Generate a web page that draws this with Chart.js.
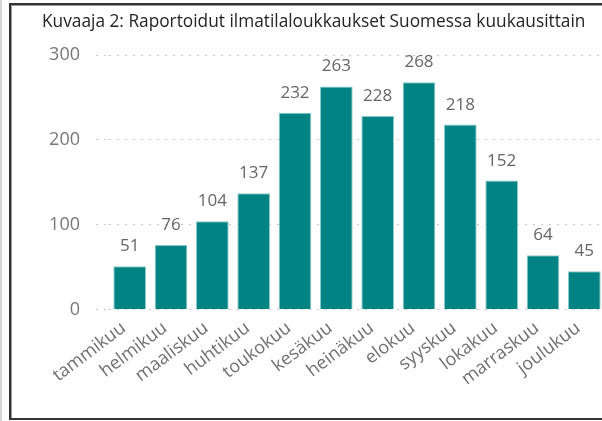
<!DOCTYPE html>
<html lang="fi">
<head>
    <meta charset="UTF-8">
    <title>Kuvaaja 2</title>
    <script src="https://cdn.jsdelivr.net/npm/chart.js@4.4.0/dist/chart.umd.min.js"></script>
    <style>
        html, body {
            margin: 0;
            padding: 0;
            width: 602px;
            height: 421px;
            overflow: hidden;
            background: #fff;
        }
        #strip {
            position: absolute;
            left: 0;
            top: 0;
            width: 2px;
            height: 421px;
            background: #d6d6d6;
        }
        #frame {
            position: absolute;
            left: 9px;
            top: 3px;
            width: 640px;
            height: 413px;
            border: 2px solid #333;
            box-shadow: inset 1px 1px 0 #999;
            pointer-events: none;
        }
        #chart {
            position: absolute;
            left: 0;
            top: 0;
        }
    </style>
</head>
<body>
    <canvas id="chart" width="606" height="421"></canvas>
    <div id="strip"></div>
    <div id="frame"></div>

    <script>
        // Data
        var titleText = 'Kuvaaja 2: Raportoidut ilmatilaloukkaukset Suomessa kuukausittain';
        var months = ['tammikuu', 'helmikuu', 'maaliskuu', 'huhtikuu', 'toukokuu', 'kesäkuu',
                      'heinäkuu', 'elokuu', 'syyskuu', 'lokakuu', 'marraskuu', 'joulukuu'];
        var violations = [51, 76, 104, 137, 232, 263, 228, 268, 218, 152, 64, 45];
        var yTicks = [0, 100, 200, 300];

        var fontFamily = "'Segoe UI', 'Open Sans', sans-serif";

        // title drawn at a fixed spot, left aligned
        var titlePlugin = {
            id: 'fixedTitle',
            afterDraw: function(chart) {
                var ctx = chart.ctx;
                ctx.save();
                ctx.font = '17.3px ' + fontFamily;
                ctx.fillStyle = '#252423';
                ctx.textAlign = 'left';
                ctx.textBaseline = 'middle';
                ctx.fillText(titleText, 42, 22);
                ctx.restore();
            }
        };

        // value labels above the bars
        var valueLabels = {
            id: 'valueLabels',
            afterDatasetsDraw: function(chart) {
                var ctx = chart.ctx;
                var meta = chart.getDatasetMeta(0);
                ctx.save();
                ctx.font = '17px ' + fontFamily;
                ctx.fillStyle = '#666';
                ctx.textAlign = 'center';
                ctx.textBaseline = 'alphabetic';
                meta.data.forEach(function(bar, i) {
                    ctx.fillText(violations[i], bar.x, bar.y - 15);
                });
                ctx.restore();
            }
        };

        var ctx = document.getElementById('chart').getContext('2d');
        var chart = new Chart(ctx, {
            type: 'bar',
            data: {
                labels: months,
                datasets: [{
                    data: violations,
                    backgroundColor: '#028383',
                    borderColor: '#8ccaca',
                    borderWidth: 1,
                    categoryPercentage: 1,
                    barPercentage: 0.79
                }]
            },
            options: {
                responsive: false,
                animation: false,
                devicePixelRatio: 1,
                layout: {
                    padding: { left: 42, top: 55, right: 1, bottom: 0 }
                },
                plugins: {
                    legend: { display: false },
                    title: { display: false },
                    tooltip: { enabled: false }
                },
                scales: {
                    x: {
                        offset: true,
                        grid: { display: false, drawTicks: false },
                        border: { display: false },
                        ticks: {
                            autoSkip: false,
                            maxRotation: 37,
                            minRotation: 37,
                            padding: 8,
                            labelOffset: -6,
                            color: '#707070',
                            font: { family: fontFamily, size: 18 }
                        },
                        afterFit: function(scale) { scale.height = 111.5; }
                    },
                    y: {
                        min: 0,
                        max: 300,
                        afterBuildTicks: function(scale) {
                            scale.ticks = yTicks.map(function(v) { return { value: v }; });
                        },
                        grid: {
                            color: '#c8c8c8',
                            lineWidth: 1,
                            tickLength: 13,
                            tickColor: '#c8c8c8',
                            tickBorderDash: [2, 6]
                        },
                        border: { display: false, dash: [2, 6] },
                        ticks: {
                            padding: 16,
                            color: '#777',
                            font: { family: fontFamily, size: 18 }
                        },
                        afterFit: function(scale) { scale.width = 67; }
                    }
                }
            },
            plugins: [titlePlugin, valueLabels]
        });
    </script>
</body>
</html>
